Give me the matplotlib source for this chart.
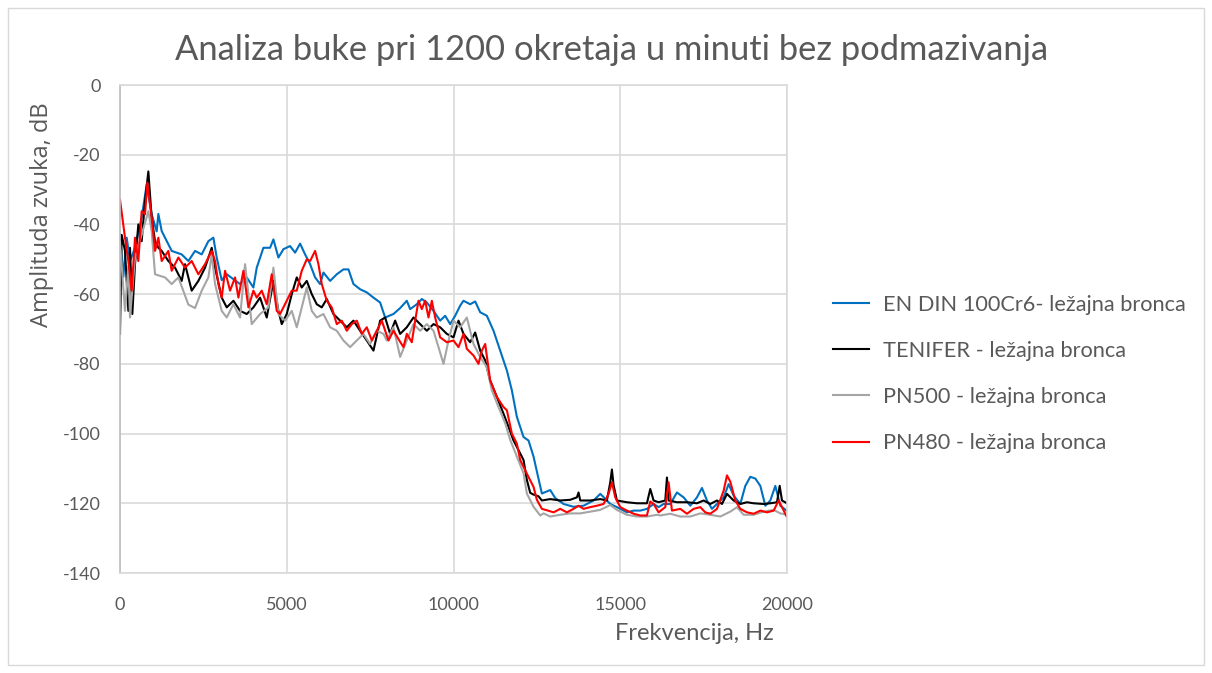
import matplotlib
matplotlib.use("Agg")
import matplotlib.pyplot as plt
from matplotlib.patches import Rectangle

# EN DIN 100Cr6 - ležajna bronca
freq_endin = [0, 100, 200, 300, 450, 650, 800, 950, 1100, 1150,
              1250, 1350, 1550, 1850, 2050, 2250, 2450, 2650, 2800, 2900,
              3050, 3200, 3400, 3600, 3800, 4000, 4100, 4300, 4500, 4600,
              4750, 4900, 5100, 5250, 5400, 5550, 5700, 5850, 6000, 6100,
              6300, 6500, 6700, 6850, 7000, 7200, 7400, 7600, 7800, 7950,
              8200, 8400, 8600, 8700, 8900, 9050, 9200, 9400, 9600, 9750,
              9900, 10050, 10200, 10300, 10500, 10650, 10800, 11000, 11200, 11400,
              11600, 11750, 11900, 12100, 12250, 12400, 12550, 12650, 12900, 13050,
              13300, 13600, 13900, 14200, 14400, 14550, 14700, 14900, 15200, 15400,
              15600, 15800, 16000, 16150, 16300, 16500, 16700, 16900, 17100, 17300,
              17450, 17600, 17750, 17900, 18100, 18250, 18400, 18600, 18750, 18900,
              19050, 19200, 19350, 19500, 19650, 19800, 20000]
db_endin = [-43, -55, -43.8, -50.5, -46.7, -38, -28.6, -37.1, -42, -37,
            -41.9, -43.8, -47.6, -48.6, -50.5, -47.6, -48.6, -44.8, -43.8, -49.5,
            -56, -54.3, -55.7, -57.1, -55.2, -58.1, -52.4, -46.7, -46.7, -44.3,
            -49.5, -47.1, -46.2, -48.1, -45.5, -48.6, -51.4, -55.2, -57.1, -53.8,
            -56.2, -54.3, -52.9, -52.9, -57.1, -58.6, -59.5, -61, -62.4, -66.7,
            -65.7, -64, -61.9, -64.3, -62.9, -61.4, -62.4, -64.8, -67.6, -66.2,
            -68.6, -66.2, -63.3, -61.9, -62.9, -62.1, -65.2, -66.2, -70.5, -76.2,
            -81.9, -87.6, -95.2, -101, -102, -106.6, -113, -117.2, -116.2, -118.5,
            -120.2, -121, -120.7, -119.2, -117.3, -118.7, -120.2, -121.1, -122.6, -122.1,
            -122.1, -121.6, -120.2, -121.1, -120.2, -120.2, -116.9, -118.3, -120.7, -118.3,
            -115.6, -119.2, -121.6, -120.2, -118.3, -114.5, -117.8, -120.2, -115, -112.4,
            -112.9, -115, -120.7, -119.2, -115, -120.7, -122.2]

# TENIFER - ležajna bronca
freq_tenifer = [0, 50, 150, 250, 300, 370, 450, 550, 650, 750,
                850, 950, 1050, 1150, 1250, 1450, 1650, 1850, 1950, 2150,
                2350, 2550, 2750, 2850, 3050, 3200, 3400, 3600, 3800, 4000,
                4200, 4400, 4600, 4750, 4850, 5000, 5150, 5300, 5450, 5600,
                5750, 5900, 6050, 6200, 6400, 6600, 6800, 7000, 7200, 7400,
                7600, 7800, 7950, 8100, 8250, 8400, 8600, 8800, 9000, 9200,
                9400, 9600, 9800, 10000, 10150, 10300, 10500, 10650, 10800, 10950,
                11100, 11300, 11500, 11650, 11800, 12000, 12100, 12200, 12300, 12400,
                12550, 12650, 12900, 13200, 13500, 13700, 13750, 13800, 14100, 14400,
                14600, 14700, 14750, 14800, 14900, 15200, 15500, 15800, 15900, 16000,
                16150, 16350, 16400, 16450, 16700, 17000, 17300, 17500, 17700, 17900,
                18050, 18200, 18400, 18600, 18800, 19000, 19300, 19500, 19700, 19780,
                19850, 20000]
db_tenifer = [-71.4, -43, -47.6, -64.8, -46.7, -65.7, -51.4, -40, -44.8, -33.3,
              -24.8, -38.1, -44.8, -46.7, -47.6, -50.5, -52.4, -56.2, -51.4, -59,
              -56.2, -52.4, -46.7, -52.4, -61, -63.8, -61.9, -64.8, -65.7, -63.8,
              -61, -66.7, -56.2, -64.8, -68.6, -65.7, -60, -55.2, -58.1, -56.2,
              -60, -62.9, -63.8, -61.4, -65.7, -67.6, -69.5, -67.6, -70.5, -73.3,
              -76.2, -67.6, -66.7, -71.4, -67.6, -71.4, -69.5, -66.7, -68.6, -70.5,
              -68.6, -69.5, -71.4, -72.4, -67.6, -71.4, -73.8, -71, -76.2, -79,
              -84.8, -89.5, -94.3, -98.1, -102, -105.7, -107.6, -113.3, -117, -117.5,
              -118, -119.2, -118.8, -119.2, -119, -118.3, -116.9, -119.2, -119.2, -118.8,
              -119.2, -114, -110.3, -114.8, -119.2, -119.7, -120, -120, -115.9, -119.2,
              -119.7, -119.2, -112.6, -119.2, -119.7, -119.7, -120, -119.2, -120.2, -119.2,
              -120.2, -117.3, -119.2, -120.2, -119.7, -120, -120.2, -120, -119.7, -115,
              -119.2, -120]

# PN500 - ležajna bronca
freq_pn500 = [0, 150, 250, 300, 450, 650, 850, 950, 1050, 1350,
              1550, 1750, 2050, 2250, 2450, 2650, 2750, 2850, 3050, 3200,
              3400, 3600, 3750, 3950, 4200, 4450, 4600, 4750, 4950, 5150,
              5300, 5500, 5600, 5750, 5900, 6100, 6300, 6500, 6700, 6900,
              7100, 7300, 7500, 7700, 7900, 8000, 8200, 8400, 8600, 8800,
              9000, 9200, 9400, 9550, 9700, 9850, 10000, 10200, 10400, 10600,
              10800, 11000, 11150, 11350, 11550, 11700, 11900, 12100, 12200, 12400,
              12600, 12700, 12900, 13200, 13500, 13800, 14100, 14400, 14700, 14900,
              15200, 15500, 15800, 16100, 16200, 16500, 16800, 17100, 17400, 17700,
              18000, 18300, 18500, 18700, 19000, 19300, 19600, 19800, 20000]
db_pn500 = [-45, -64.8, -52, -66.7, -49.5, -42.9, -36.2, -42, -54.3, -55.2,
            -57.1, -55.2, -63, -64, -59, -55.2, -48.6, -57.1, -64.8, -66.7,
            -62.9, -66.7, -51.4, -68.6, -65.7, -63.8, -52.4, -65.7, -67.6, -64.8,
            -69.5, -61.9, -58.1, -64.8, -66.7, -65.7, -69.5, -70.5, -73.3, -75.2,
            -73.3, -71.4, -74.3, -70.5, -71.4, -73.3, -69.5, -78, -73.3, -68.6,
            -70.5, -68.6, -70.5, -75.2, -80, -73.3, -67.6, -69.5, -66.7, -74.3,
            -78, -81, -87.6, -92.4, -97, -101.8, -106.6, -111.4, -117.2, -121,
            -123.5, -122.9, -123.8, -123.3, -122.9, -122.9, -122.4, -121.9, -120.5, -121.9,
            -123.3, -123.8, -123.8, -123.3, -123.5, -123, -123.8, -123.8, -122.9, -123.3,
            -123.8, -122.4, -121.1, -123.3, -123.3, -122.4, -121.9, -122.9, -123.3]

# PN480 - ležajna bronca
freq_pn480 = [0, 150, 250, 350, 450, 550, 650, 750, 820, 950,
              1050, 1150, 1250, 1450, 1550, 1750, 1950, 2150, 2350, 2550,
              2750, 2850, 2950, 3050, 3150, 3300, 3450, 3550, 3700, 3850,
              4000, 4100, 4250, 4400, 4550, 4700, 4800, 5000, 5150, 5300,
              5450, 5600, 5700, 5850, 5950, 6050, 6200, 6350, 6500, 6650,
              6800, 6950, 7100, 7250, 7400, 7550, 7700, 7850, 8050, 8200,
              8350, 8500, 8600, 8750, 8850, 8950, 9050, 9150, 9250, 9350,
              9450, 9600, 9800, 10000, 10150, 10300, 10400, 10600, 10750, 10850,
              10950, 11100, 11300, 11500, 11600, 11750, 11900, 12000, 12200, 12400,
              12500, 12650, 12800, 13000, 13200, 13400, 13600, 13750, 13900, 14100,
              14300, 14500, 14650, 14750, 14850, 15000, 15200, 15400, 15600, 15800,
              15900, 16000, 16150, 16350, 16450, 16550, 16800, 17000, 17200, 17400,
              17550, 17700, 17900, 18100, 18200, 18300, 18450, 18600, 18800, 19000,
              19200, 19400, 19600, 19750, 19900, 20000]
db_pn480 = [-32.9, -43.8, -50.5, -59, -43.8, -50.5, -36.2, -37.1, -28, -38.1,
            -47.6, -43.8, -50.5, -47.6, -53.3, -49.5, -52.4, -50.5, -54.3, -51.4,
            -47.6, -50.5, -57.1, -61, -53.3, -59, -55.2, -61, -53.3, -63.8,
            -59, -61, -59, -62.9, -54.3, -64.8, -65.7, -61.9, -59, -59,
            -53.3, -50, -50.5, -47.6, -51.4, -57.1, -61.9, -63.8, -68.6, -67.6,
            -70.5, -68.6, -67.6, -71.4, -69.5, -73.3, -70.5, -67.6, -73.3, -70.5,
            -72.9, -75.2, -71.4, -73.8, -67.6, -61.9, -64.3, -61.9, -66.7, -61.9,
            -66.7, -72.4, -73.8, -73.3, -75.2, -71.4, -75.7, -77.6, -80, -76.2,
            -74.3, -84.8, -89.5, -92.4, -93.3, -100, -102.9, -107.6, -111.5, -115.3,
            -119, -121.6, -122, -122.6, -121.6, -122.6, -121.6, -120.7, -121.6, -121.1,
            -120.7, -120.2, -117.3, -114, -118.3, -121.1, -122.1, -123, -123.5, -123.5,
            -119.5, -120.2, -122.6, -121.1, -114, -122.1, -121.6, -123, -121.6, -121.1,
            -122.6, -123, -121.6, -116.4, -112, -113.8, -119.2, -121.6, -122.6, -123,
            -122.1, -122.6, -122.1, -119.2, -122.1, -124]

labels = ["EN DIN 100Cr6- ležajna bronca", "TENIFER - ležajna bronca",
          "PN500 - ležajna bronca", "PN480 - ležajna bronca"]
colors = ["#0070C0", "#000000", "#A5A5A5", "#FF0000"]

plt.rcParams["font.family"] = ["Lato", "DejaVu Sans"]
plt.rcParams["axes.unicode_minus"] = False
text_col = "#595959"
grid_col = "#D9D9D9"

fig = plt.figure(figsize=(12.12, 6.73), dpi=100)
ax = fig.add_axes([120 / 1212, 1 - 573 / 673, 667 / 1212, 488 / 673])

series = [(freq_endin, db_endin), (freq_tenifer, db_tenifer),
          (freq_pn500, db_pn500), (freq_pn480, db_pn480)]
for (f, d), lab, c in zip(series, labels, colors):
    ax.plot(f, d, color=c, lw=1.5, label=lab)

ax.set_xlim(0, 20000)
ax.set_ylim(-140, 0)
ax.set_xticks([0, 5000, 10000, 15000, 20000])
ax.set_yticks(range(-140, 1, 20))
ax.grid(True, color=grid_col, lw=1.2)
ax.set_axisbelow(True)
for s in ax.spines.values():
    s.set_color(grid_col)
    s.set_linewidth(1.2)
ax.spines["left"].set_color("#BFBFBF")
ax.tick_params(length=0, labelsize=13, labelcolor=text_col)
ax.tick_params(axis="y", pad=14)
ax.tick_params(axis="x", pad=17)

ax.set_xlabel("Frekvencija, Hz", fontsize=17, color=text_col)
ax.xaxis.set_label_coords((694 - 120) / 667, (573 - 633) / 488)
ax.xaxis.label.set_va("center")
ax.set_ylabel("Amplituda zvuka, dB", fontsize=17, color=text_col,
              family=["Open Sans", "DejaVu Sans"])
ax.yaxis.set_label_coords((42 - 120) / 667, (573 - 215) / 488)
ax.yaxis.label.set_va("center")

fig.text(612 / 1212, 1 - 50 / 673,
         "Analiza buke pri 1200 okretaja u minuti bez podmazivanja",
         ha="center", va="center", fontsize=24.8, color=text_col)

ax.legend(loc="center left", bbox_to_anchor=(833 / 1212, 1 - 374 / 673),
          bbox_transform=fig.transFigure, frameon=False, fontsize=15.7,
          handlelength=1.65, handletextpad=0.65, labelspacing=1.2,
          borderpad=0, borderaxespad=0, labelcolor=text_col)

# light frame around the whole chart
fig.patches.append(Rectangle((8 / 1212, 8 / 673), 1196 / 1212, 657 / 673,
                             transform=fig.transFigure, fill=False,
                             edgecolor=grid_col, lw=1))

fig.savefig("out.png", dpi=100)
